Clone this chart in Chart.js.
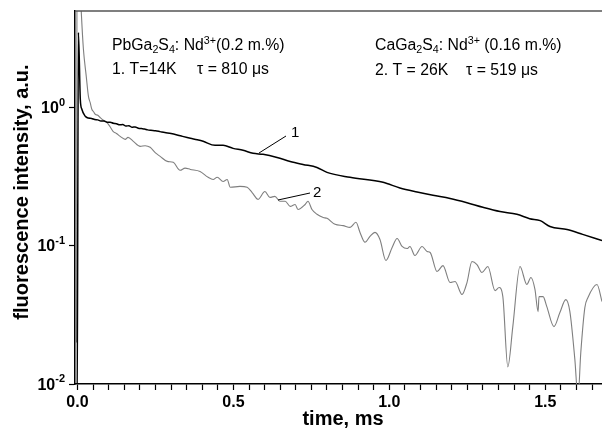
<!doctype html>
<html lang="en">
<head>
<meta charset="UTF-8" />
<title>Fluorescence decay</title>
<style>
  html, body { margin: 0; padding: 0; background: #fff; }
  #wrap { width: 602px; height: 439px; }
</style>
</head>
<body>
<div id="wrap"><canvas id="chart" width="602" height="439"></canvas></div>
<script src="https://cdn.jsdelivr.net/npm/chart.js"></script>
<script>
// curve 1: PbGa2S4:Nd3+, T = 14 K (time in ms, intensity a.u.)
const time1 = [-0.004, -0.0015, 0.003, 0.009, 0.014, 0.025, 0.035, 0.045, 0.055, 0.065,
  0.075, 0.085, 0.095, 0.105, 0.115, 0.125, 0.135, 0.145, 0.155, 0.165,
  0.175, 0.185, 0.195, 0.205, 0.215, 0.225, 0.235, 0.25, 0.265, 0.28,
  0.30, 0.33, 0.362, 0.384, 0.403, 0.441, 0.467, 0.499, 0.531, 0.563,
  0.595, 0.640, 0.682, 0.723, 0.768, 0.800, 0.874, 0.980, 1.034, 1.089,
  1.140, 1.195, 1.249, 1.300, 1.355, 1.409, 1.45, 1.484, 1.515, 1.570,
  1.620, 1.682];
const int1 = [0.005, 0.005, 3.5, 1.15, 0.972, 0.865, 0.84, 0.835, 0.82, 0.815,
  0.80, 0.80, 0.785, 0.785, 0.77, 0.765, 0.75, 0.755, 0.735, 0.74,
  0.72, 0.725, 0.71, 0.705, 0.70, 0.69, 0.685, 0.68, 0.67, 0.66,
  0.65, 0.625, 0.600, 0.585, 0.570, 0.533, 0.533, 0.507, 0.491, 0.467,
  0.459, 0.436, 0.408, 0.388, 0.369, 0.340, 0.313, 0.288, 0.262, 0.245,
  0.232, 0.220, 0.205, 0.190, 0.177, 0.169, 0.157, 0.152, 0.138, 0.131,
  0.121, 0.109];

// curve 2: CaGa2S4:Nd3+, T = 26 K
const time2 = [-0.003, -0.001, 0.008, 0.012, 0.019, 0.028, 0.035, 0.041, 0.046, 0.052,
  0.057, 0.065, 0.073, 0.083, 0.094, 0.104, 0.114, 0.125, 0.137, 0.153,
  0.162, 0.179, 0.201, 0.217, 0.233, 0.25, 0.265, 0.288, 0.307, 0.329,
  0.345, 0.362, 0.393, 0.419, 0.435, 0.448, 0.467, 0.480, 0.490, 0.521,
  0.544, 0.560, 0.579, 0.601, 0.617, 0.633, 0.649, 0.666, 0.682, 0.698,
  0.707, 0.730, 0.739, 0.752, 0.768, 0.788, 0.800, 0.826, 0.852, 0.874,
  0.893, 0.906, 0.922, 0.938, 0.954, 0.970, 0.989, 1.009, 1.025, 1.041,
  1.057, 1.066, 1.082, 1.105, 1.121, 1.131, 1.153, 1.172, 1.195, 1.211,
  1.233, 1.249, 1.265, 1.281, 1.297, 1.316, 1.339, 1.352, 1.364, 1.380,
  1.396, 1.419, 1.441, 1.454, 1.467, 1.477, 1.480, 1.493, 1.505, 1.528,
  1.547, 1.566, 1.579, 1.595, 1.605, 1.614, 1.627, 1.637, 1.666, 1.682];
const int2 = [0.02, 50, 8, 4.99, 2.64, 1.69, 1.21, 1.08, 0.972, 0.93,
  0.894, 0.88, 0.845, 0.81, 0.782, 0.73, 0.674, 0.65, 0.619, 0.589,
  0.609, 0.570, 0.524, 0.53, 0.516, 0.47, 0.444, 0.408, 0.402, 0.352,
  0.365, 0.357, 0.345, 0.313, 0.302, 0.313, 0.292, 0.302, 0.265, 0.269,
  0.265, 0.243, 0.217, 0.247, 0.224, 0.228, 0.210, 0.210, 0.193, 0.199,
  0.183, 0.199, 0.210, 0.183, 0.169, 0.160, 0.158, 0.143, 0.140, 0.136,
  0.148, 0.125, 0.106, 0.117, 0.125, 0.111, 0.0782, 0.0972, 0.113, 0.0989,
  0.0955, 0.0989, 0.0851, 0.0989, 0.0909, 0.0894, 0.0651, 0.0719, 0.0542, 0.0551,
  0.0444, 0.0542, 0.0769, 0.0731, 0.0641, 0.0708, 0.0474, 0.0499, 0.0429, 0.0133,
  0.026, 0.0708, 0.0525, 0.0589, 0.0483, 0.0334, 0.0429, 0.0429, 0.0363, 0.026,
  0.0329, 0.0408, 0.0334, 0.015, 0.008, 0.0169, 0.0357, 0.0422, 0.0525, 0.0395];

const xMajor = [0, 0.5, 1.0, 1.5];
const xMinorStep = 0.05;
const yTicks = [0.01, 0.1, 1];
const yExp = ['-2', '-1', '0'];

const FONT = '"Liberation Sans", Arial, sans-serif';

function pairs(xs, ys) {
  return xs.map((x, i) => ({ x: x, y: ys[i] }));
}

// text with sub/superscripts, parts = [[text, 'sub'|'sup'|undefined], ...]
function drawRich(ctx, parts, x, y, size, bold) {
  let cx = x;
  for (const [t, kind] of parts) {
    const s = kind ? size * 0.68 : size;
    ctx.font = (bold ? 'bold ' : '') + s + 'px ' + FONT;
    let dy = 0;
    if (kind === 'sub') dy = size * 0.22;
    if (kind === 'sup') dy = -size * 0.4;
    ctx.fillText(t, cx, y + dy);
    cx += ctx.measureText(t).width;
  }
  return cx;
}

const decor = {
  id: 'decor',
  afterDraw(chart) {
    const { ctx, chartArea: a, scales: { y } } = chart;
    ctx.save();
    // top frame line
    ctx.strokeStyle = '#555';
    ctx.lineWidth = 1.5;
    ctx.beginPath();
    ctx.moveTo(a.left, a.top);
    ctx.lineTo(a.right, a.top);
    ctx.stroke();

    ctx.fillStyle = '#000';
    ctx.textBaseline = 'alphabetic';
    ctx.textAlign = 'left';

    // y tick labels 10^n
    yTicks.forEach((v, i) => {
      const py = y.getPixelForValue(v);
      ctx.font = 'bold 11px ' + FONT;
      const ew = ctx.measureText(yExp[i]).width;
      ctx.font = 'bold 16px ' + FONT;
      const bw = ctx.measureText('10').width;
      const right = 65;
      ctx.fillText('10', right - ew - bw, py + 5.5);
      ctx.font = 'bold 11px ' + FONT;
      ctx.fillText(yExp[i], right - ew, py - 2);
    });

    // sample info
    drawRich(ctx, [['PbGa'], ['2', 'sub'], ['S'], ['4', 'sub'], [': Nd'], ['3+', 'sup'], ['(0.2 m.%)']], 112, 50, 15.8);
    ctx.font = '15.8px ' + FONT;
    ctx.fillText('1. T=14K', 112, 74);
    ctx.fillText('\u03c4 = 810 \u03bcs', 197, 74);
    drawRich(ctx, [['CaGa'], ['2', 'sub'], ['S'], ['4', 'sub'], [': Nd'], ['3+', 'sup'], [' (0.16 m.%)']], 375, 50, 15.8);
    ctx.font = '15.8px ' + FONT;
    ctx.fillText('2. T = 26K', 375, 75);
    ctx.fillText('\u03c4 = 519 \u03bcs', 466, 75);

    // curve labels with leader lines
    ctx.strokeStyle = '#000';
    ctx.lineWidth = 1;
    ctx.beginPath();
    ctx.moveTo(259, 153);
    ctx.lineTo(286, 136);
    ctx.moveTo(278, 200);
    ctx.lineTo(310, 193);
    ctx.stroke();
    ctx.font = '15px ' + FONT;
    ctx.fillText('1', 291, 137);
    ctx.fillText('2', 313, 197);

    // axis titles
    ctx.font = 'bold 20px ' + FONT;
    ctx.textAlign = 'center';
    ctx.fillText('time, ms', 343, 425);
    ctx.translate(28, 192);
    ctx.rotate(-Math.PI / 2);
    ctx.fillText('fluorescence intensity, a.u.', 0, 0);
    ctx.restore();
  }
};

const ctx = document.getElementById('chart');

new Chart(ctx, {
  type: 'line',
  data: {
    datasets: [
      {
        label: '1',
        data: pairs(time1, int1),
        borderColor: '#000',
        borderWidth: 1.5,
        pointRadius: 0,
        cubicInterpolationMode: 'monotone',
        order: 0,
      },
      {
        label: '2',
        data: pairs(time2, int2),
        borderColor: '#7f7f7f',
        borderWidth: 1.1,
        pointRadius: 0,
        cubicInterpolationMode: 'monotone',
        order: 1,
      },
    ],
  },
  options: {
    responsive: false,
    animation: false,
    devicePixelRatio: 1,
    layout: { padding: { top: 11, right: 0, bottom: 0, left: 0 } },
    plugins: { legend: { display: false }, tooltip: { enabled: false } },
    scales: {
      x: {
        type: 'linear',
        min: -0.008,
        max: 1.682,
        afterFit: (s) => { s.height = 55; },
        afterBuildTicks: (s) => {
          const t = [];
          for (let v = 0; v <= s.max + 1e-9; v += xMinorStep) t.push({ value: Math.round(v * 100) / 100 });
          s.ticks = t;
        },
        border: { color: '#000', width: 1.5 },
        grid: { drawOnChartArea: false, tickLength: 6, tickColor: '#000', tickWidth: 1.2 },
        ticks: {
          autoSkip: false,
          maxRotation: 0,
          color: '#000',
          padding: 3,
          font: { family: FONT, size: 16, weight: 'bold' },
          callback: (v) => (xMajor.some((m) => Math.abs(m - v) < 1e-6) ? v.toFixed(1) : ''),
        },
      },
      y: {
        type: 'logarithmic',
        min: 0.01,
        max: 5,
        afterFit: (s) => { s.width = 75; },
        afterBuildTicks: (s) => { s.ticks = yTicks.map((v) => ({ value: v, major: true })); },
        border: { color: '#000', width: 1.5 },
        grid: { drawOnChartArea: false, tickLength: 6, tickColor: '#000', tickWidth: 1.2 },
        ticks: { display: false },
      },
    },
  },
  plugins: [decor],
});
</script>
</body>
</html>
